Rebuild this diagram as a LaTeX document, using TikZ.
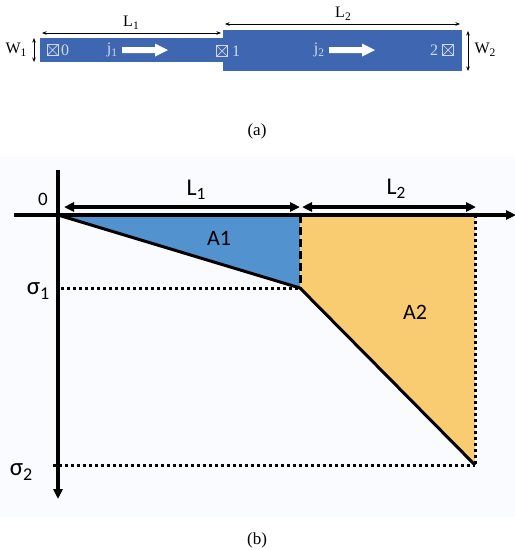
\documentclass[tikz,border=0pt]{standalone}
\usepackage{fontspec}
\setmainfont{Liberation Serif}
\newfontfamily\calib{Carlito}
\usetikzlibrary{arrows.meta}
\definecolor{stripblue}{RGB}{63,103,177}
\definecolor{labellight}{RGB}{208,218,238}
\definecolor{areablue}{RGB}{82,146,206}
\definecolor{areaorange}{RGB}{249,204,114}
\definecolor{panelbg}{RGB}{250,251,254}
\newcommand{\lsub}[2]{#1\raisebox{-0.35ex}{\scalebox{0.72}{#2}}}
\begin{document}
\begin{tikzpicture}[x=1pt,y=-1pt,
  dimline/.style={line width=0.6pt,{Stealth[length=4.5pt,width=3.5pt]}-{Stealth[length=4.5pt,width=3.5pt]}},
  serlab/.style={inner sep=0pt,font=\fontsize{16}{18}\selectfont},
  striplab/.style={inner sep=0pt,text=labellight,font=\fontsize{16}{18}\selectfont},
  portbox/.style={draw=labellight,line width=0.7pt,minimum width=11pt,minimum height=11pt,inner sep=0pt,
    path picture={\draw[labellight,line width=0.7pt] (path picture bounding box.north west) -- (path picture bounding box.south east)
      (path picture bounding box.north east) -- (path picture bounding box.south west);}},
  flowarrow/.style={fill=white,draw=none},
  axisline/.style={line width=3.2pt},
  bigtip/.style={-{Triangle[length=10pt,width=9pt]}},
  bothtips/.style={{Triangle[length=10pt,width=9pt]}-{Triangle[length=10pt,width=9pt]}},
  curveline/.style={line width=3pt,line join=round},
  dotline/.style={line width=3pt,dash pattern=on 3pt off 3pt},
  dashline/.style={line width=3pt,dash pattern=on 8pt off 4pt},
  caplab/.style={inner sep=0pt,font=\calib}
]
\useasboundingbox (0,0) rectangle (515,550);

% ---------------- (a) ----------------
\fill[stripblue] (40,38) rectangle (223,62);
\fill[stripblue] (223,30) rectangle (462,71);

\coordinate (l1a) at (42,33);
\coordinate (l1b) at (221,33);
\coordinate (l2a) at (225,24);
\coordinate (l2b) at (460,24);
\coordinate (w1a) at (34,38);
\coordinate (w1b) at (34,62);
\coordinate (w2a) at (468,31);
\coordinate (w2b) at (468,71);
\draw[dimline] (l1a) -- (l1b);
\draw[dimline] (l2a) -- (l2b);
\draw[dimline] (w1a) -- (w1b);
\draw[dimline] (w2a) -- (w2b);
\node[serlab] (L1a) at (131,23) {\lsub{L}{1}};
\node[serlab] (L2a) at (343,14) {\lsub{L}{2}};
\node[serlab] (W1a) at (16,50) {\lsub{W}{1}};
\node[serlab] (W2a) at (485,50) {\lsub{W}{2}};

\node[portbox] (p0) at (52.5,50) {};
\node[striplab] (n0) at (65,50) {0};
\node[portbox] (p1) at (222,51) {};
\node[striplab] (n1) at (236,51) {1};
\node[portbox] (p2) at (448,50) {};
\node[striplab] (n2) at (434,50) {2};

\node[striplab] (j1) at (112,50) {\lsub{j}{1}};
\node[striplab] (j2) at (319,50) {\lsub{j}{2}};
\fill[flowarrow] (122,47) -- (155,47) -- (155,43.5) -- (168,50) -- (155,56.5) -- (155,53) -- (122,53) -- cycle;
\fill[flowarrow] (329,47) -- (362,47) -- (362,43.5) -- (375,50) -- (362,56.5) -- (362,53) -- (329,53) -- cycle;

\node[serlab,font=\fontsize{17}{19}\selectfont] (capa) at (257,131) {(a)};

% ---------------- (b) ----------------
\fill[panelbg] (0,157) rectangle (515,517);

\coordinate (O) at (58,215);
\coordinate (T1) at (300,215);
\coordinate (P1) at (300,288);
\coordinate (T2) at (475,215);
\coordinate (P2) at (475,465);
\coordinate (S1) at (61,288);
\coordinate (S2) at (53,465);
\coordinate (xa) at (14,215);
\coordinate (xb) at (516,215);
\coordinate (ya) at (58,170);
\coordinate (yb) at (58,499);

\fill[areablue] (O) -- (T1) -- (P1) -- cycle;
\fill[areaorange] (T1) -- (T2) -- (P2) -- (P1) -- cycle;

\draw[dotline] (S1) -- (P1);
\draw[dotline] (S2) -- (P2);
\draw[dotline] (T2) -- (P2);
\draw[dashline] (T1) -- (P1);
\draw[curveline] (O) -- (P1) -- (P2);

\draw[axisline,bigtip] (xa) -- (xb);
\draw[axisline,bigtip] (ya) -- (yb);

\coordinate (d1a) at (64,207);
\coordinate (d1b) at (300,207);
\coordinate (d2a) at (302,207);
\coordinate (d2b) at (476,207);
\draw[axisline,bothtips] (d1a) -- (d1b);
\draw[axisline,bothtips] (d2a) -- (d2b);

\node[caplab,font=\calib\fontsize{19}{21}\selectfont] (zero) at (43,199) {0};
\node[caplab,font=\calib\fontsize{24}{26}\selectfont] (L1b) at (196,190) {\lsub{L}{1}};
\node[caplab,font=\calib\fontsize{24}{26}\selectfont] (L2b) at (396,189) {\lsub{L}{2}};
\node[caplab,font=\calib\fontsize{22}{24}\selectfont] (A1) at (219,238) {A1};
\node[caplab,font=\calib\fontsize{22}{24}\selectfont] (A2) at (415,312) {A2};
\node[caplab,font=\calib\fontsize{25}{27}\selectfont] (s1) at (38,291) {\lsub{σ}{1}};
\node[caplab,font=\calib\fontsize{25}{27}\selectfont] (s2) at (21,472) {\lsub{σ}{2}};

\node[serlab,font=\fontsize{17}{19}\selectfont] (capb) at (257,540) {(b)};
\end{tikzpicture}
\end{document}
